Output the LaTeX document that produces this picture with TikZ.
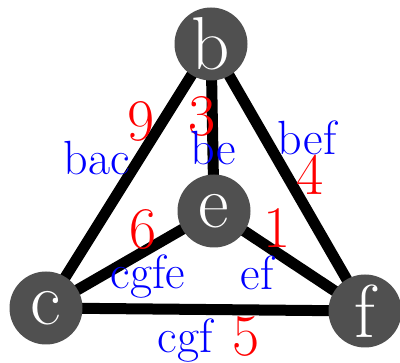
\documentclass[tikz,border=0pt]{standalone}
\usepackage{tikz}
\usetikzlibrary{backgrounds}
\definecolor{vgray}{RGB}{80,80,80}
\tikzset{
  vert/.style={circle,fill=vgray,text=white,minimum size=73pt,inner sep=0pt,
    font=\fontsize{75}{75}\selectfont},
  wt/.style={text=red,inner sep=0pt,font=\fontsize{59}{59}\selectfont},
  fc/.style={text=blue,inner sep=0pt,font=\fontsize{48}{48}\selectfont},
  edge/.style={line width=11pt}
}
\begin{document}
\begin{tikzpicture}[x=1pt,y=-1pt]
\useasboundingbox (0,0) rectangle (400,363);
% vertices
\node[vert] (b) at (211,44) {b};
\node[vert] (e) at (214,211) {e};
\node[vert] (c) at (46,308) {c};
\node[vert] (f) at (365,311) {f};
% edges
\begin{pgfonlayer}{background}
\draw[edge] (b.center) -- (c.center) (b.center) -- (e.center)
      (b.center) -- (f.center) (e.center) -- (c.center)
      (e.center) -- (f.center) (c.center) -- (f.center);
\end{pgfonlayer}
% weights
\node[wt] (w9) at (141,121) {9};
\node[wt] (w3) at (202,116) {3};
\node[wt] (w4) at (310,175) {4};
\node[wt] (w6) at (143,229) {6};
\node[wt] (w1) at (277,228) {1};
\node[wt] (w5) at (246,337) {5};
% faces
\node[fc] (bac) at (97,158) {bac};
\node[fc] (be) at (213,148) {be};
\node[fc] (bef) at (307,138) {bef};
\node[fc] (cgfe) at (148,277) {cgfe};
\node[fc] (ef) at (257,273) {ef};
\node[fc] (cgf) at (185,341) {cgf};
\end{tikzpicture}
\end{document}
